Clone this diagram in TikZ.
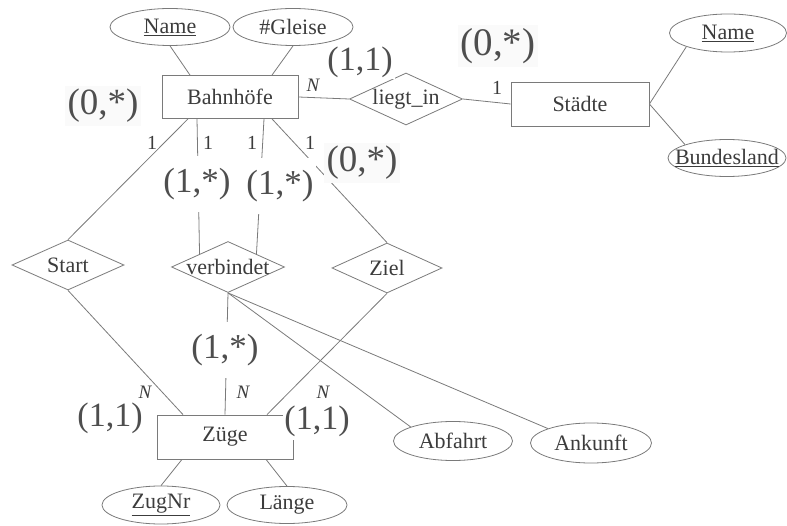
\documentclass[tikz,border=0pt]{standalone}
\usepackage{fontspec}
\setmainfont{Liberation Serif}
\usetikzlibrary{shapes.geometric,calc}
\definecolor{linec}{HTML}{7A7A7A}
\definecolor{txtc}{HTML}{3C3C3C}
\definecolor{cardc}{HTML}{4E4E4E}
\newcommand\fsz[1]{\fontsize{#1}{#1}\selectfont}
\tikzset{
  every label/.style={inner sep=0pt, text=txtc, font=\fsz{22}},
  ent/.style={draw=linec, line width=0.8pt, rectangle, inner sep=0pt, minimum width=136pt, minimum height=43pt, text=txtc, font=\fsz{22}},
  rel/.style={draw=linec, line width=0.8pt, diamond, inner sep=0pt, minimum width=112pt, minimum height=50pt},
  attr/.style={draw=linec, line width=0.8pt, ellipse, inner sep=0pt, minimum width=119pt, minimum height=38pt},
  card/.style={text=cardc, fill=white, inner xsep=2pt, inner ysep=12pt},
  cardz/.style={text=cardc, fill=black!2, inner sep=3pt, font=\fsz{37}},
  one/.style={text=txtc, font=\fsz{20}, inner sep=0pt},
  en/.style={text=txtc, font=\fsz{19}\itshape, inner sep=0pt},
  conn/.style={draw=linec, line width=0.8pt}
}
\begin{document}
\begin{tikzpicture}[x=1pt,y=-1pt]
\useasboundingbox (0,0) rectangle (787,526);
% entities
\node[ent] (bahn) at (230,97) {Bahnhöfe};
\node[ent, minimum width=138pt, minimum height=44pt] (staedte) at (580,104) {Städte};
\node[ent, minimum height=44pt] (zuege) at (225,437) {Züge};
% attributes
\node[attr, minimum width=120pt, minimum height=37pt, label={center:\underline{Name}}] (bname) at (170,27) {};
\node[attr, minimum width=120pt, minimum height=37pt, label={center:\#Gleise}] (gleise) at (293,27) {};
\node[attr, minimum width=117pt, label={center:\underline{Name}}] (sname) at (728,33) {};
\node[attr, minimum width=118pt, minimum height=37pt, label={center:\underline{Bundesland}}] (bland) at (727,158) {};
\node[attr, minimum width=118pt, label={center:\underline{ZugNr}}] (zugnr) at (161,505) {};
\node[attr, minimum width=120pt, minimum height=37pt, label={center:Länge}] (laenge) at (287,505) {};
\node[attr, minimum width=119pt, minimum height=39pt, label={center:Abfahrt}] (abf) at (453,441) {};
\node[attr, minimum width=121pt, minimum height=40pt, label={center:Ankunft}] (ank) at (591,443) {};
% relationships
\node[rel, minimum width=113pt, minimum height=52pt, label={center:liegt\_in}] (lieg) at (406,99) {};
\node[rel, label={center:Start}] (start) at (68,265) {};
\node[rel, minimum width=113pt, minimum height=51pt, label={center:verbindet}] (verb) at (228,267) {};
\node[rel, minimum width=110pt, label={center:Ziel}] (ziel) at (387,268) {};
% connectors
\draw[conn] (bname.south) -- ($(bahn.north)+(-40,0)$);
\draw[conn] (gleise.south) -- ($(bahn.north)+(42,0)$);
\draw[conn] (bahn.east) -- (lieg.west);
\draw[conn] (lieg.east) -- (staedte.west);
\draw[conn] (staedte.east) -- (sname.south west);
\draw[conn] (staedte.east) -- (bland.north west);
\draw[conn] ($(bahn.south)+(-42,0)$) -- (start.north);
\draw[conn] ($(bahn.south)+(-33,0)$) -- (verb.north west);
\draw[conn] ($(bahn.south)+(34,0)$) -- (verb.north east);
\draw[conn] ($(bahn.south)+(42,0)$) -- (ziel.north);
\draw[conn] (start.south) -- ($(zuege.north)+(-42,0)$);
\draw[conn] (verb.south) -- (zuege.north);
\draw[conn] (ziel.south) -- ($(zuege.north)+(42,0)$);
\draw[conn] (verb.south) -- (abf.north west);
\draw[conn] (verb.south) -- (ank.north west);
\draw[conn] ($(zuege.south)+(-43,0)$) -- (zugnr.north);
\draw[conn] ($(zuege.south)+(41,0)$) -- (laenge.north);
% cardinality labels
\node[card, font=\fsz{34}, inner ysep=2pt] (c11a) at (360,62) {(1,1)};
\node[cardz, font=\fsz{39}] (c0a) at (498,46) {(0,*)};
\node[cardz] (c0b) at (103,106) {(0,*)};
\node[cardz] (c0c) at (362,163) {(0,*)};
\node[card, font=\fsz{35}] (c1a) at (197,184) {(1,*)};
\node[card, font=\fsz{35}] (c1b) at (280,186) {(1,*)};
\node[card, font=\fsz{35}] (c1c) at (225,350) {(1,*)};
\node[card, font=\fsz{34}, inner ysep=3pt] (c11b) at (110,418) {(1,1)};
\node[card, font=\fsz{34}, inner ysep=4pt, inner xsep=1pt] (c11c) at (317,421) {(1,1)};
% small labels
\node[en] (n1) at (313,85) {N};
\node[one] (o1) at (497,88) {1};
\node[one] (o2) at (152,143) {1};
\node[one] (o3) at (208,143) {1};
\node[one] (o4) at (252,143) {1};
\node[one] (o5) at (310,143) {1};
\node[en] (n2) at (145,392) {N};
\node[en] (n3) at (243,392) {N};
\node[en] (n4) at (323,392) {N};
\end{tikzpicture}
\end{document}
